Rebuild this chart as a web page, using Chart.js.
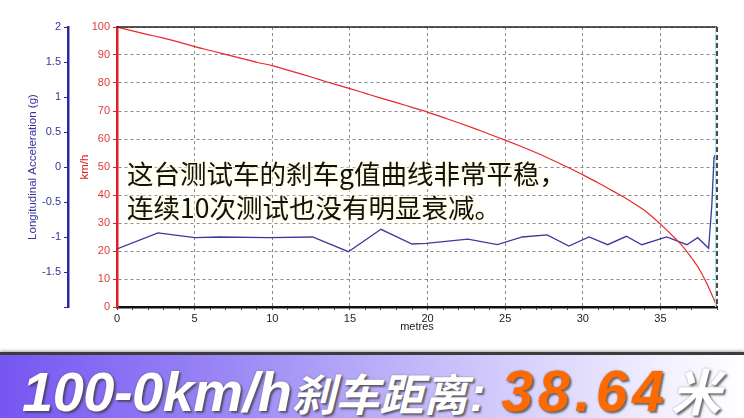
<!DOCTYPE html>
<html>
<head>
<meta charset="utf-8">
<script src="https://cdn.jsdelivr.net/npm/chart.js@4.4.0/dist/chart.umd.min.js"></script>
<style>
  body { margin: 0; background: #fff; }
  #wrap { position: relative; width: 744px; height: 418px; overflow: hidden; }
  #chartBox { position: absolute; left: 0; top: 0; width: 744px; height: 345px; }
  #caption {
    position: absolute; left: 127px; top: 156px;
    font-family: "Noto Sans CJK SC", sans-serif; font-size: 26.5px; line-height: 34px;
    color: #111; white-space: nowrap;
    text-shadow: 0 0 3px #fffbd6, 0 0 5px #fffbd6, 0 0 8px #fffce0;
  }
  #banner {
    position: absolute; left: 0; top: 352px; width: 744px; height: 66px;
    border-top: 3px solid #3c3c3c;
    box-shadow: 0 -1px 3px rgba(0,0,0,0.35);
    background: linear-gradient(to right, #7556f2 0%, #9a86f5 30%, #c9bffa 60%, #f3f1ff 90%, #ffffff 100%);
  }
  #bannerText {
    position: absolute; left: 22px; top: 6px; white-space: nowrap;
    font-family: "Liberation Sans", "Noto Sans CJK SC", sans-serif;
    font-weight: bold; font-style: italic; line-height: 56px;
    color: #fff;
    text-shadow: 2px 2px 2px rgba(60,60,60,0.7), 0 0 2px rgba(80,80,80,0.6);
  }
  #bannerText .lat { font-size: 56px; letter-spacing: -0.5px; }
  #bannerText .cjk { font-family: "Noto Sans CJK SC", sans-serif; font-size: 44px; }
  #bannerText .colon { font-size: 48px; margin-right: 16px; margin-left: 2px; }
  #bannerText .num { font-size: 57px; color: #ff6a00; letter-spacing: 5px; }
  #bannerText .mi { font-family: "Noto Sans CJK SC", sans-serif; font-size: 50px; margin-left: 2px; }
</style>
</head>
<body>
<div id="wrap">
  <div id="chartBox"><canvas id="brakeChart"></canvas></div>
  <div id="caption">这台测试车的刹车g值曲线非常平稳，<br>连续10次测试也没有明显衰减。</div>
  <div id="banner">
    <div id="bannerText"><span class="lat">100-0km/h</span><span class="cjk">刹车距离</span><span class="colon">:</span><span class="num">38.64</span><span class="mi">米</span></div>
  </div>
</div>
<script>
  // 车速 (km/h) 与距离 (m)
  const speedDist = [0, 1, 2, 3, 4, 5, 6, 7, 8, 9, 10, 11, 12, 13, 14, 15, 16, 17, 18, 19, 20,
    21, 22, 23, 24, 25, 26, 27, 28, 29, 30, 31, 32, 33, 34, 35, 36, 36.5, 37, 37.5, 38, 38.3, 38.5, 38.64];
  const speedVals = [100, 98.6, 97.3, 96.0, 94.6, 93.0, 91.6, 90.2, 88.8, 87.4, 86.2, 84.6, 83.0, 81.3, 79.6, 78.0,
    76.3, 74.6, 73.0, 71.3, 69.6, 67.7, 65.8, 63.8, 61.7, 59.6, 57.4, 55.1, 52.6, 50.0, 47.2, 44.3, 41.2, 38.0,
    34.4, 29.6, 24.2, 21.2, 17.5, 13.5, 8.2, 4.5, 2.0, 0];

  // 纵向加速度 (g)
  const accDist = [0, 2.64, 5.0, 6.6, 9.8, 12.6, 14.9, 17.0, 19.0, 19.9, 22.6, 24.5, 26.1, 27.7, 29.1, 30.4,
    31.6, 32.8, 33.8, 35.4, 36.7, 37.4, 38.1, 38.3, 38.45, 38.5];
  const accVals = [-1.17, -0.94, -1.01, -1.0, -1.01, -1.0, -1.21, -0.89, -1.1, -1.09, -1.03, -1.11, -1.0, -0.97,
    -1.13, -1.0, -1.11, -0.99, -1.11, -1.0, -1.11, -1.01, -1.16, -0.57, 0.14, 0.17];

  const xMax = 38.64;
  const tickFont = { family: 'Liberation Sans, Arial, sans-serif', size: 11 };
  const titleFont = { family: 'Liberation Sans, Arial, sans-serif', size: 11.5 };

  const frame = {
    id: 'frame',
    afterDraw(chart) {
      const { ctx, chartArea: a } = chart;
      ctx.save();
      ctx.strokeStyle = '#222';
      ctx.lineWidth = 1.5;
      ctx.beginPath();
      ctx.moveTo(a.left, a.top);
      ctx.lineTo(a.right, a.top);
      ctx.stroke();
      ctx.strokeStyle = '#9ee6ee';
      ctx.lineWidth = 1;
      ctx.beginPath();
      ctx.moveTo(a.right - 1.5, a.top);
      ctx.lineTo(a.right - 1.5, a.bottom);
      ctx.stroke();
      ctx.strokeStyle = '#111';
      ctx.lineWidth = 1.5;
      ctx.setLineDash([5, 3]);
      ctx.beginPath();
      ctx.moveTo(a.right, a.top);
      ctx.lineTo(a.right, a.bottom);
      ctx.stroke();
      ctx.restore();
    }
  };

  new Chart(document.getElementById('brakeChart'), {
    type: 'line',
    data: {
      datasets: [
        {
          label: 'km/h',
          data: speedDist.map((d, i) => ({ x: d, y: speedVals[i] })),
          yAxisID: 'ySpeed',
          borderColor: '#e8282c',
          borderWidth: 1.2,
          pointRadius: 0,
          cubicInterpolationMode: 'monotone'
        },
        {
          label: 'Longitudinal Acceleration (g)',
          data: accDist.map((d, i) => ({ x: d, y: accVals[i] })),
          yAxisID: 'yAcc',
          borderColor: '#3b3b9e',
          borderWidth: 1.3,
          pointRadius: 0,
          tension: 0
        }
      ]
    },
    options: {
      responsive: true,
      maintainAspectRatio: false,
      animation: false,
      layout: { padding: { top: 27, right: 27, left: 0, bottom: 0 } },
      plugins: { legend: { display: false }, tooltip: { enabled: false } },
      scales: {
        x: {
          type: 'linear',
          min: 0,
          max: xMax,
          afterFit: s => { s.height = 38; },
          border: { color: '#111', width: 2.5, dash: [3, 3] },
          grid: {
            color: c => (c.tick && c.tick.value % 5 === 0 && c.tick.value > 0) ? '#8a8a8a' : 'rgba(0,0,0,0)',
            tickColor: '#333',
            tickLength: 3,
            lineWidth: 1
          },
          ticks: {
            stepSize: 1,
            autoSkip: false,
            maxRotation: 0,
            color: '#222',
            font: tickFont,
            padding: 2,
            callback: v => (v % 5 === 0 ? String(v) : '')
          },
          title: {
            display: true,
            text: 'metres',
            color: '#222',
            font: tickFont,
            padding: { top: 0, bottom: 11 }
          }
        },
        ySpeed: {
          type: 'linear',
          position: 'left',
          weight: 1,
          min: 0,
          max: 100,
          afterFit: s => { s.width = 49; },
          border: { color: '#e02020', width: 2.5, dash: [3, 3] },
          grid: { color: '#8a8a8a', tickColor: '#e02020', tickLength: 4, lineWidth: 1 },
          ticks: { stepSize: 10, color: '#e03a3a', font: tickFont, padding: 3 },
          title: {
            display: true,
            text: 'km/h',
            color: '#e02020',
            font: titleFont,
            padding: { top: 10, bottom: 0 }
          }
        },
        yAcc: {
          type: 'linear',
          position: 'left',
          weight: 2,
          min: -2,
          max: 2,
          afterFit: s => { s.width = 68; },
          border: { color: '#2a2aa0', width: 2.5 },
          grid: { drawOnChartArea: false, tickColor: '#2a2aa0', tickLength: 4 },
          ticks: {
            stepSize: 0.5,
            color: '#34349a',
            font: tickFont,
            padding: 3,
            callback: v => (v === -2 ? '' : String(v))
          },
          title: {
            display: true,
            text: 'Longitudinal Acceleration (g)',
            color: '#34349a',
            font: titleFont,
            padding: { top: 26, bottom: 0 }
          }
        }
      }
    },
    plugins: [frame]
  });
</script>
</body>
</html>
